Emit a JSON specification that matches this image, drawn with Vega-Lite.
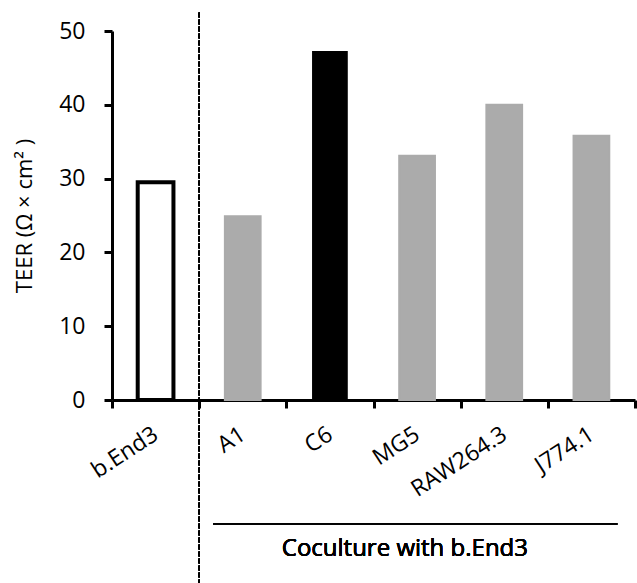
{
  "$schema": "https://vega.github.io/schema/vega-lite/v6.json",
  "width": 523,
  "height": 369,
  "autosize": "none",
  "padding": {"left": 112, "top": 31, "right": 2, "bottom": 183},
  "background": "white",
  "config": {"font": "Open Sans", "view": {"stroke": null}},
  "data": {
    "values": [
      {"cell": "b.End3", "teer": 29.5, "group": "mono"},
      {"cell": "A1", "teer": 24.9, "group": "co"},
      {"cell": "C6", "teer": 47.3, "group": "c6"},
      {"cell": "MG5", "teer": 33.1, "group": "co"},
      {"cell": "RAW264.3", "teer": 40.0, "group": "co"},
      {"cell": "J774.1", "teer": 35.8, "group": "co"}
    ]
  },
  "layer": [
    {
      "mark": {"type": "bar", "width": {"band": 0.41}},
      "encoding": {
        "x": {
          "field": "cell",
          "type": "nominal",
          "sort": null,
          "scale": {"paddingInner": 0, "paddingOuter": 0},
          "axis": {
            "title": null,
            "domainColor": "black",
            "domainWidth": 3,
            "tickColor": "black",
            "tickWidth": 3,
            "tickSize": 8,
            "tickBand": "extent",
            "labelAngle": -33,
            "labelAlign": "right",
            "labelBaseline": "middle",
            "labelPadding": 24,
            "labelFontSize": 23,
            "labelFontWeight": "normal",
            "labelColor": "black",
            "labelFont": "Open Sans"
          }
        },
        "y": {
          "field": "teer",
          "type": "quantitative",
          "scale": {"domain": [0, 50], "nice": false},
          "axis": {
            "values": [0, 10, 20, 30, 40, 50],
            "grid": false,
            "domainColor": "black",
            "domainWidth": 3,
            "tickColor": "black",
            "tickWidth": 3,
            "tickSize": 8,
            "labelPadding": 19,
            "labelFontSize": 23,
            "labelFont": "Open Sans",
            "labelFontWeight": "normal",
            "labelColor": "black",
            "title": "TEER (Ω × cm² )",
            "titleFont": "Open Sans",
            "titleFontSize": 22,
            "titleFontWeight": "normal",
            "titleColor": "black",
            "titlePadding": 22
          }
        },
        "fill": {
          "field": "group",
          "type": "nominal",
          "scale": {"domain": ["mono", "co", "c6"], "range": ["white", "#ababab", "black"]},
          "legend": null
        },
        "stroke": {
          "field": "group",
          "type": "nominal",
          "scale": {"domain": ["mono", "co", "c6"], "range": ["black", "#ababab", "black"]},
          "legend": null
        },
        "strokeWidth": {
          "field": "group",
          "type": "nominal",
          "scale": {"domain": ["mono", "co", "c6"], "range": [4, 0, 0]},
          "legend": null
        }
      }
    },
    {
      "mark": {"type": "rule", "strokeDash": [5, 2], "strokeWidth": 1.5, "color": "black", "clip": false},
      "encoding": {
        "x": {"datum": 1, "type": "quantitative", "scale": {"domain": [0, 6], "nice": false, "zero": false}, "axis": null},
        "y": {"datum": 52.5, "type": "quantitative"},
        "y2": {"datum": -25}
      }
    },
    {
      "mark": {"type": "rule", "strokeWidth": 1, "color": "black", "clip": false},
      "encoding": {
        "x": {"datum": 1.16, "type": "quantitative", "scale": {"domain": [0, 6], "nice": false, "zero": false}, "axis": null},
        "x2": {"datum": 5.8},
        "y": {"datum": -16.8, "type": "quantitative"}
      }
    },
    {
      "mark": {"type": "text", "fontSize": 24, "fontWeight": "normal", "font": "Open Sans", "color": "black", "align": "center", "baseline": "middle", "clip": false},
      "encoding": {
        "x": {"datum": 3.36, "type": "quantitative", "scale": {"domain": [0, 6], "nice": false, "zero": false}, "axis": null},
        "y": {"datum": -20.2, "type": "quantitative"},
        "text": {"value": "Coculture with b.End3"}
      }
    }
  ],
  "resolve": {"scale": {"x": "independent"}}
}
